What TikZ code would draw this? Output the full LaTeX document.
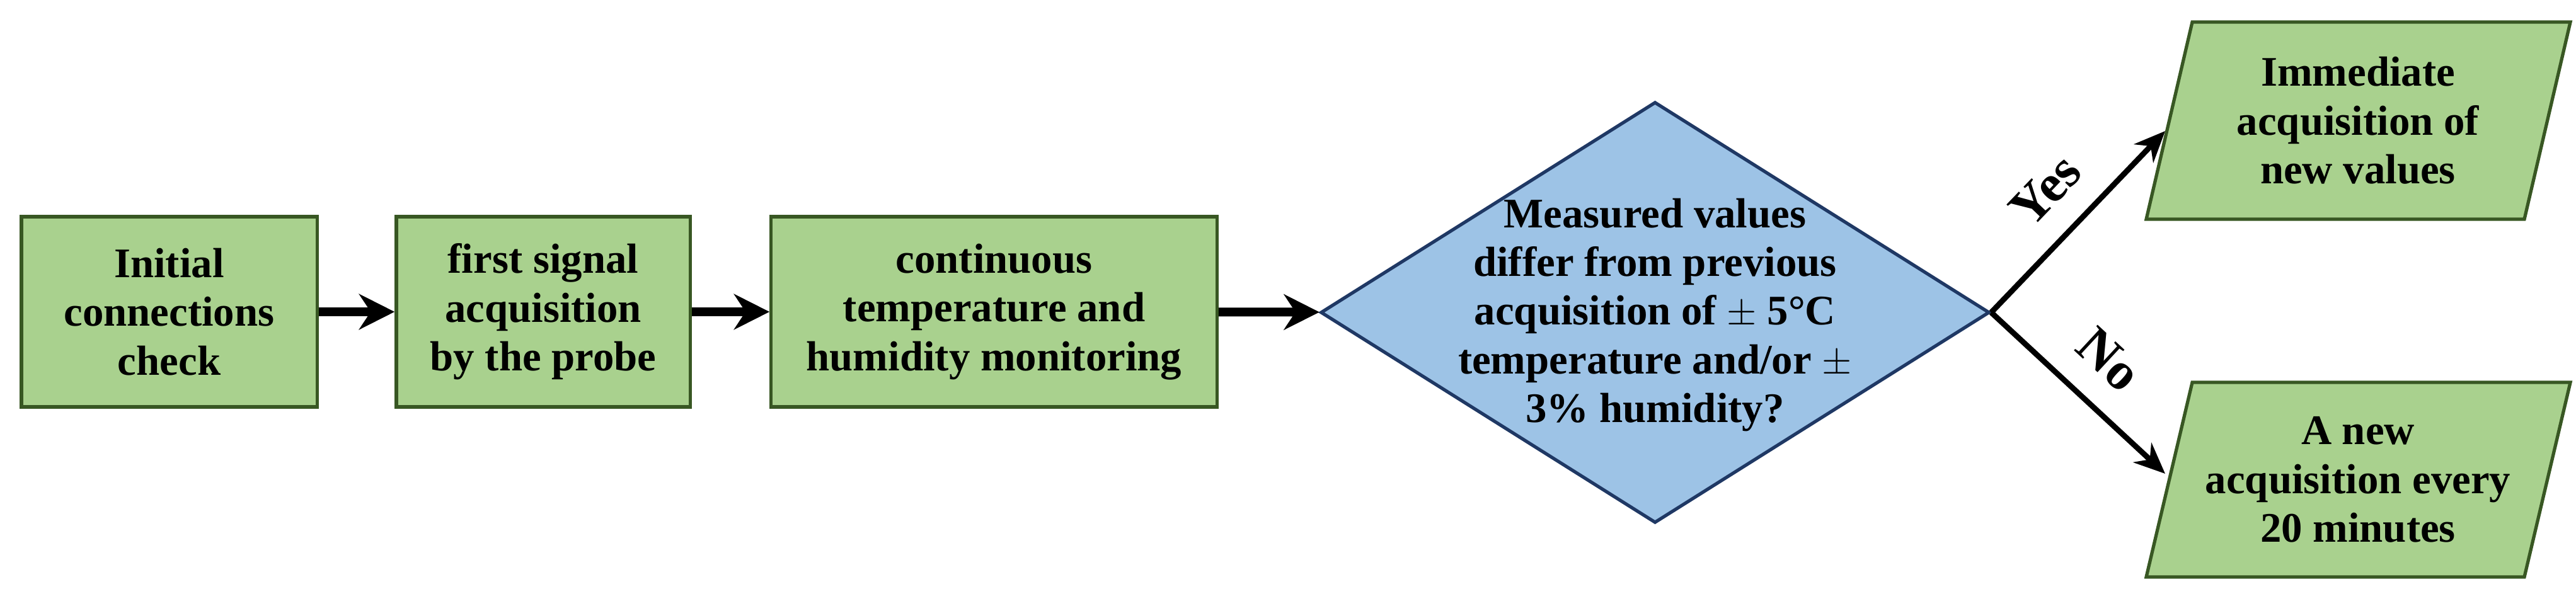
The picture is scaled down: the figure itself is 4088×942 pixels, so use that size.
\documentclass[tikz,border=0pt]{standalone}
\usepackage{fontspec}
\setmainfont{Liberation Serif}
\usetikzlibrary{shapes.geometric,arrows.meta}
\definecolor{gfill}{HTML}{A9D18E}
\definecolor{gdraw}{HTML}{385723}
\definecolor{bfill}{HTML}{9DC3E6}
\definecolor{bdraw}{HTML}{1F3864}
\begin{document}
\begin{tikzpicture}[x=0.01cm,y=-0.01cm,
  txt/.style={align=center,font=\fontsize{19}{22}\selectfont\bfseries,inner sep=0pt},
  box/.style={rectangle,fill=gfill,draw=gdraw,line width=1.5pt,txt},
  para/.style={fill=gfill,draw=gdraw,line width=1.5pt,line join=miter},
  arr/.style={-{Stealth[length=16pt,width=16pt]},line width=4pt},
  br/.style={-{Stealth[length=14pt,width=12pt]},line width=2.5pt},
  lab/.style={font=\fontsize{24}{26}\selectfont\bfseries}]
\useasboundingbox (0,0) rectangle (4088,942);
\node[box,minimum width=4.69cm,minimum height=3.02cm] (a) at (268.5,495) {Initial\\connections\\check};
\node[box,minimum width=4.66cm,minimum height=3.02cm] (b) at (862,495) {first signal\\acquisition\\by the probe};
\node[box,minimum width=7.07cm,minimum height=3.02cm] (c) at (1577.5,495) {continuous\\temperature and\\humidity monitoring};
\node[diamond,fill=bfill,draw=bdraw,line width=1.5pt,minimum width=10.61cm,minimum height=6.68cm,inner sep=0pt] (d) at (2626.5,496) {};
\node[txt] (dt) at (2626.5,500) {Measured values\\differ from previous\\acquisition of $\pm$ 5°C\\temperature and/or $\pm$\\3\% humidity?};
\draw[para] (3406,348) -- (3479,35) -- (4079,35) -- (4006,348) -- cycle;
\node[txt] (et) at (3742,191.5) {Immediate\\acquisition of\\new values};
\draw[para] (3406,916) -- (3479,607) -- (4079,607) -- (4006,916) -- cycle;
\node[txt] (ft) at (3742,761.5) {A new\\acquisition every\\20 minutes};
\draw[arr] (a) -- (b);
\draw[arr] (b) -- (c);
\draw[arr] (c) -- (d);
\coordinate (ye) at (3436,208);
\coordinate (no) at (3436,752);
\draw[br] (d.east) -- node[lab,sloped,above=8pt] {Yes} (ye);
\draw[br] (d.east) -- node[lab,sloped,above=8pt] {No} (no);
\end{tikzpicture}
\end{document}
